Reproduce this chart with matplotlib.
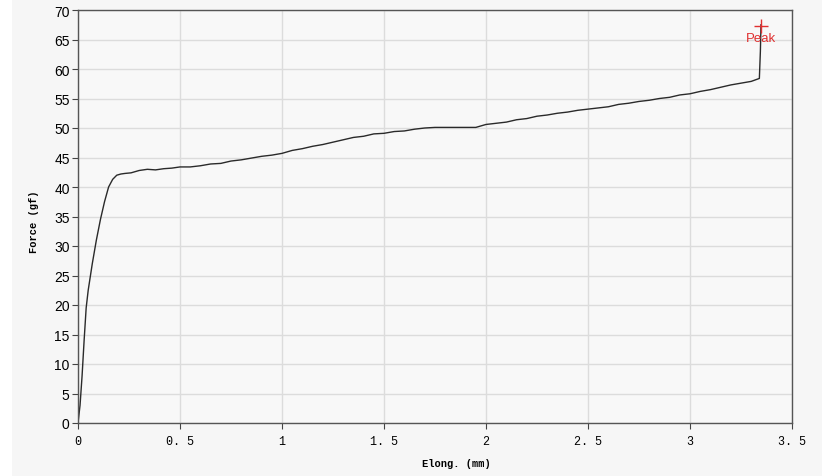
import matplotlib.pyplot as plt
from matplotlib.patches import Rectangle

plt.rcParams['font.family'] = 'Liberation Sans'

# elongation (mm) and force (gf)
elong = [0.0, 0.01, 0.02, 0.03, 0.04, 0.05, 0.07, 0.09, 0.11, 0.13, 0.15, 0.17,
         0.19, 0.21, 0.23, 0.26, 0.30, 0.34, 0.38, 0.42, 0.46, 0.50, 0.55, 0.60,
         0.65, 0.70, 0.75, 0.80, 0.85, 0.90, 0.95, 1.00, 1.05, 1.10, 1.15, 1.20,
         1.25, 1.30, 1.35, 1.40, 1.45, 1.50, 1.55, 1.60, 1.65, 1.70, 1.75, 1.80,
         1.85, 1.90, 1.95, 2.00, 2.05, 2.10, 2.15, 2.20, 2.25, 2.30, 2.35, 2.40,
         2.45, 2.50, 2.55, 2.60, 2.65, 2.70, 2.75, 2.80, 2.85, 2.90, 2.95, 3.00,
         3.05, 3.10, 3.15, 3.20, 3.25, 3.30, 3.34, 3.345, 3.348]
force = [0.0, 3.0, 8.0, 14.0, 19.5, 22.5, 27.0, 31.0, 34.5, 37.5, 40.0, 41.3,
         42.0, 42.2, 42.3, 42.4, 42.8, 43.0, 42.9, 43.1, 43.2, 43.4, 43.4, 43.6,
         43.9, 44.0, 44.4, 44.6, 44.9, 45.2, 45.4, 45.7, 46.2, 46.5, 46.9, 47.2,
         47.6, 48.0, 48.4, 48.6, 49.0, 49.1, 49.4, 49.5, 49.8, 50.0, 50.1, 50.1,
         50.1, 50.1, 50.1, 50.6, 50.8, 51.0, 51.4, 51.6, 52.0, 52.2, 52.5, 52.7,
         53.0, 53.2, 53.4, 53.6, 54.0, 54.2, 54.5, 54.7, 55.0, 55.2, 55.6, 55.8,
         56.2, 56.5, 56.9, 57.3, 57.6, 57.9, 58.4, 63.0, 67.5]
peak_x, peak_y = 3.348, 67.3

fig = plt.figure(figsize=(8.28, 4.77), dpi=100, facecolor='white')
fig.patches.append(Rectangle((12 / 828, 0), 810 / 828, 1, transform=fig.transFigure,
                             facecolor='#f6f6f6', edgecolor='none', zorder=-10))
ax = fig.add_axes([78 / 828, 1 - 424 / 477, 714 / 828, 413 / 477])
ax.set_facecolor('#f8f8f8')

ax.plot(elong, force, color='#2a2a2a', lw=1.0)
ax.plot([peak_x], [peak_y], marker='+', color='#e03030', ms=10, mew=1.0)
ax.text(peak_x, peak_y - 1.0, 'Peak', color='#e03030', fontsize=9.5,
        ha='center', va='top')

ax.set_xlim(0, 3.5)
ax.set_ylim(0, 70)
ax.set_xticks([0, 0.5, 1, 1.5, 2, 2.5, 3, 3.5])
ax.set_xticklabels(['0', '0. 5', '1', '1. 5', '2', '2. 5', '3', '3. 5'],
                   family='Liberation Mono', fontsize=8.5)
ax.set_yticks(range(0, 71, 5))
ax.tick_params(axis='y', labelsize=10, length=4, color='#444444', pad=2)
ax.tick_params(axis='x', length=4, color='#444444', pad=5)
ax.grid(True, color='#dcdcdc', lw=1.0)
ax.set_axisbelow(True)
for s in ax.spines.values():
    s.set_color('#555555')
    s.set_linewidth(1.0)

ax.set_xlabel('Elong. (mm)', family='Liberation Mono', fontsize=7.5, fontweight='bold')
ax.xaxis.set_label_coords(0.53, -0.085)
ax.set_ylabel('Force (gf)', family='Liberation Mono', fontsize=7.5, fontweight='bold')
ax.yaxis.set_label_coords(-0.055, 0.49)

fig.savefig('out.png', dpi=100, facecolor=fig.get_facecolor())
